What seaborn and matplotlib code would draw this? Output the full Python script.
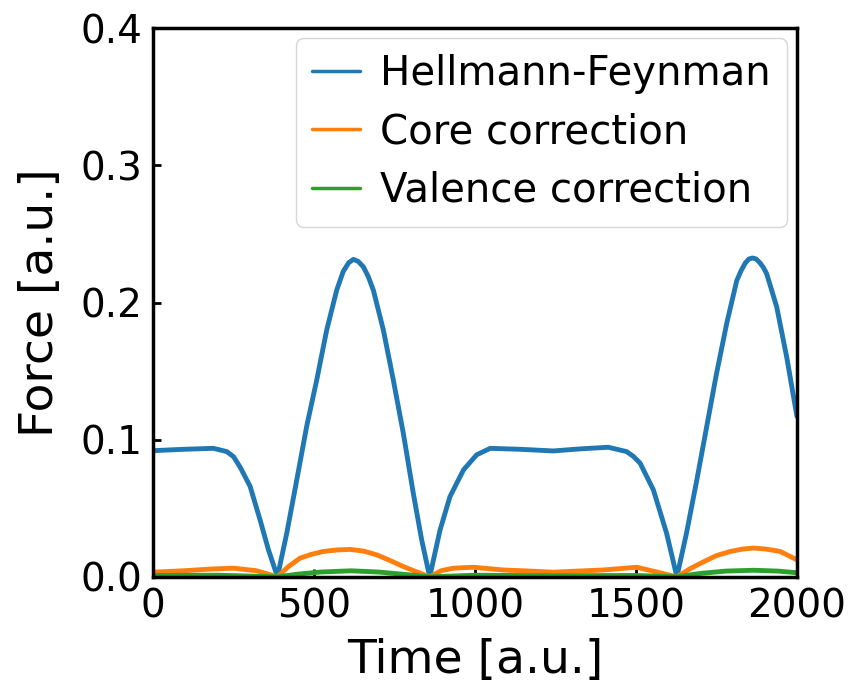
import matplotlib
matplotlib.use("Agg")
import matplotlib.pyplot as plt
import seaborn as sns

# Hellmann-Feynman force
t_hf = [0, 94, 187, 229, 250, 270, 301, 332, 358, 386, 415, 446, 477, 508, 539, 570, 590, 607,
        622, 637, 653, 668, 684, 715, 746, 777, 808, 834, 859, 891, 922, 964, 1005, 1047, 1140,
        1243, 1326, 1414, 1471, 1492, 1513, 1554, 1595, 1627, 1657, 1689, 1720, 1750, 1782,
        1813, 1827, 1840, 1851, 1862, 1873, 1885, 1896, 1906, 1937, 1968, 2000]
f_hf = [0.092, 0.093, 0.0937, 0.0913, 0.0875, 0.080, 0.066, 0.0415, 0.0197, 0.0, 0.032, 0.0707,
        0.110, 0.1435, 0.180, 0.209, 0.2225, 0.229, 0.2315, 0.2300, 0.226, 0.219, 0.209, 0.180,
        0.1435, 0.1047, 0.061, 0.027, 0.0, 0.034, 0.0585, 0.078, 0.089, 0.0937, 0.093, 0.0918,
        0.0933, 0.0945, 0.0913, 0.0878, 0.0828, 0.0634, 0.0318, 0.0, 0.032, 0.0707, 0.110,
        0.148, 0.185, 0.216, 0.2235, 0.229, 0.2318, 0.2325, 0.2318, 0.229, 0.2255, 0.221,
        0.197, 0.1605, 0.117]

# core correction
t_core = [0, 100, 180, 249, 320, 386, 420, 456, 490, 529, 570, 612, 655, 695, 737, 777, 820,
          859, 895, 932, 994, 1088, 1170, 1243, 1320, 1398, 1460, 1502, 1565, 1627, 1670, 1710,
          1750, 1793, 1830, 1865, 1905, 1948, 2000]
f_core = [0.0034, 0.0045, 0.0057, 0.0063, 0.0045, 0.0, 0.0075, 0.0136, 0.0163, 0.0185, 0.0196,
          0.020, 0.0187, 0.016, 0.0118, 0.0075, 0.0035, 0.0, 0.0045, 0.0063, 0.007, 0.005, 0.0042,
          0.0034, 0.0042, 0.005, 0.0062, 0.007, 0.0035, 0.0, 0.0062, 0.011, 0.0155, 0.0185, 0.0202,
          0.021, 0.0202, 0.0185, 0.0124]

# valence correction
t_val = [0, 200, 386, 450, 520, 615, 700, 780, 859, 1000, 1250, 1500, 1627, 1700, 1780, 1865,
         1940, 2000]
f_val = [0.001, 0.0012, 0.0, 0.002, 0.0035, 0.0044, 0.0035, 0.0018, 0.0, 0.0012, 0.0008, 0.001,
         0.0, 0.0025, 0.0042, 0.0048, 0.0042, 0.003]

sns.set_style("ticks")
plt.rcParams['font.family'] = ['DejaVu Sans']
plt.rcParams['text.color'] = 'black'
plt.rcParams['axes.labelcolor'] = 'black'
plt.rcParams['xtick.color'] = 'black'
plt.rcParams['ytick.color'] = 'black'
plt.rcParams['axes.edgecolor'] = 'black'

fig = plt.figure(figsize=(8.56, 6.9), dpi=100)
ax = fig.add_axes([0.179, 0.164, 0.752, 0.795])

sns.lineplot(x=t_hf, y=f_hf, ax=ax, color='#1f77b4', lw=3.5, label='Hellmann-Feynman')
sns.lineplot(x=t_core, y=f_core, ax=ax, color='#ff7f0e', lw=3.5, label='Core correction')
sns.lineplot(x=t_val, y=f_val, ax=ax, color='#2ca02c', lw=3.5, label='Valence correction')

ax.set_xlim(0, 2000)
ax.set_ylim(0, 0.4)
ax.set_xticks([0, 500, 1000, 1500, 2000])
ax.set_yticks([0.0, 0.1, 0.2, 0.3, 0.4])
ax.tick_params(direction='in', length=6, width=2, labelsize=28, pad=8, colors='black')
for s in ax.spines.values():
    s.set_linewidth(2.5)
    s.set_visible(True)
    s.set_color('black')

ax.set_xlabel('Time [a.u.]', fontsize=34, color='black', labelpad=9)
ax.set_ylabel('Force [a.u.]', fontsize=34, color='black', labelpad=12)

leg = ax.legend(loc='upper right', fontsize=29, handlelength=1.2, handletextpad=0.5,
                borderaxespad=0.25, labelspacing=0.45)
for line in leg.get_lines():
    line.set_linewidth(2.5)
for txt in leg.get_texts():
    txt.set_color('black')

fig.savefig('out.png', dpi=100)
